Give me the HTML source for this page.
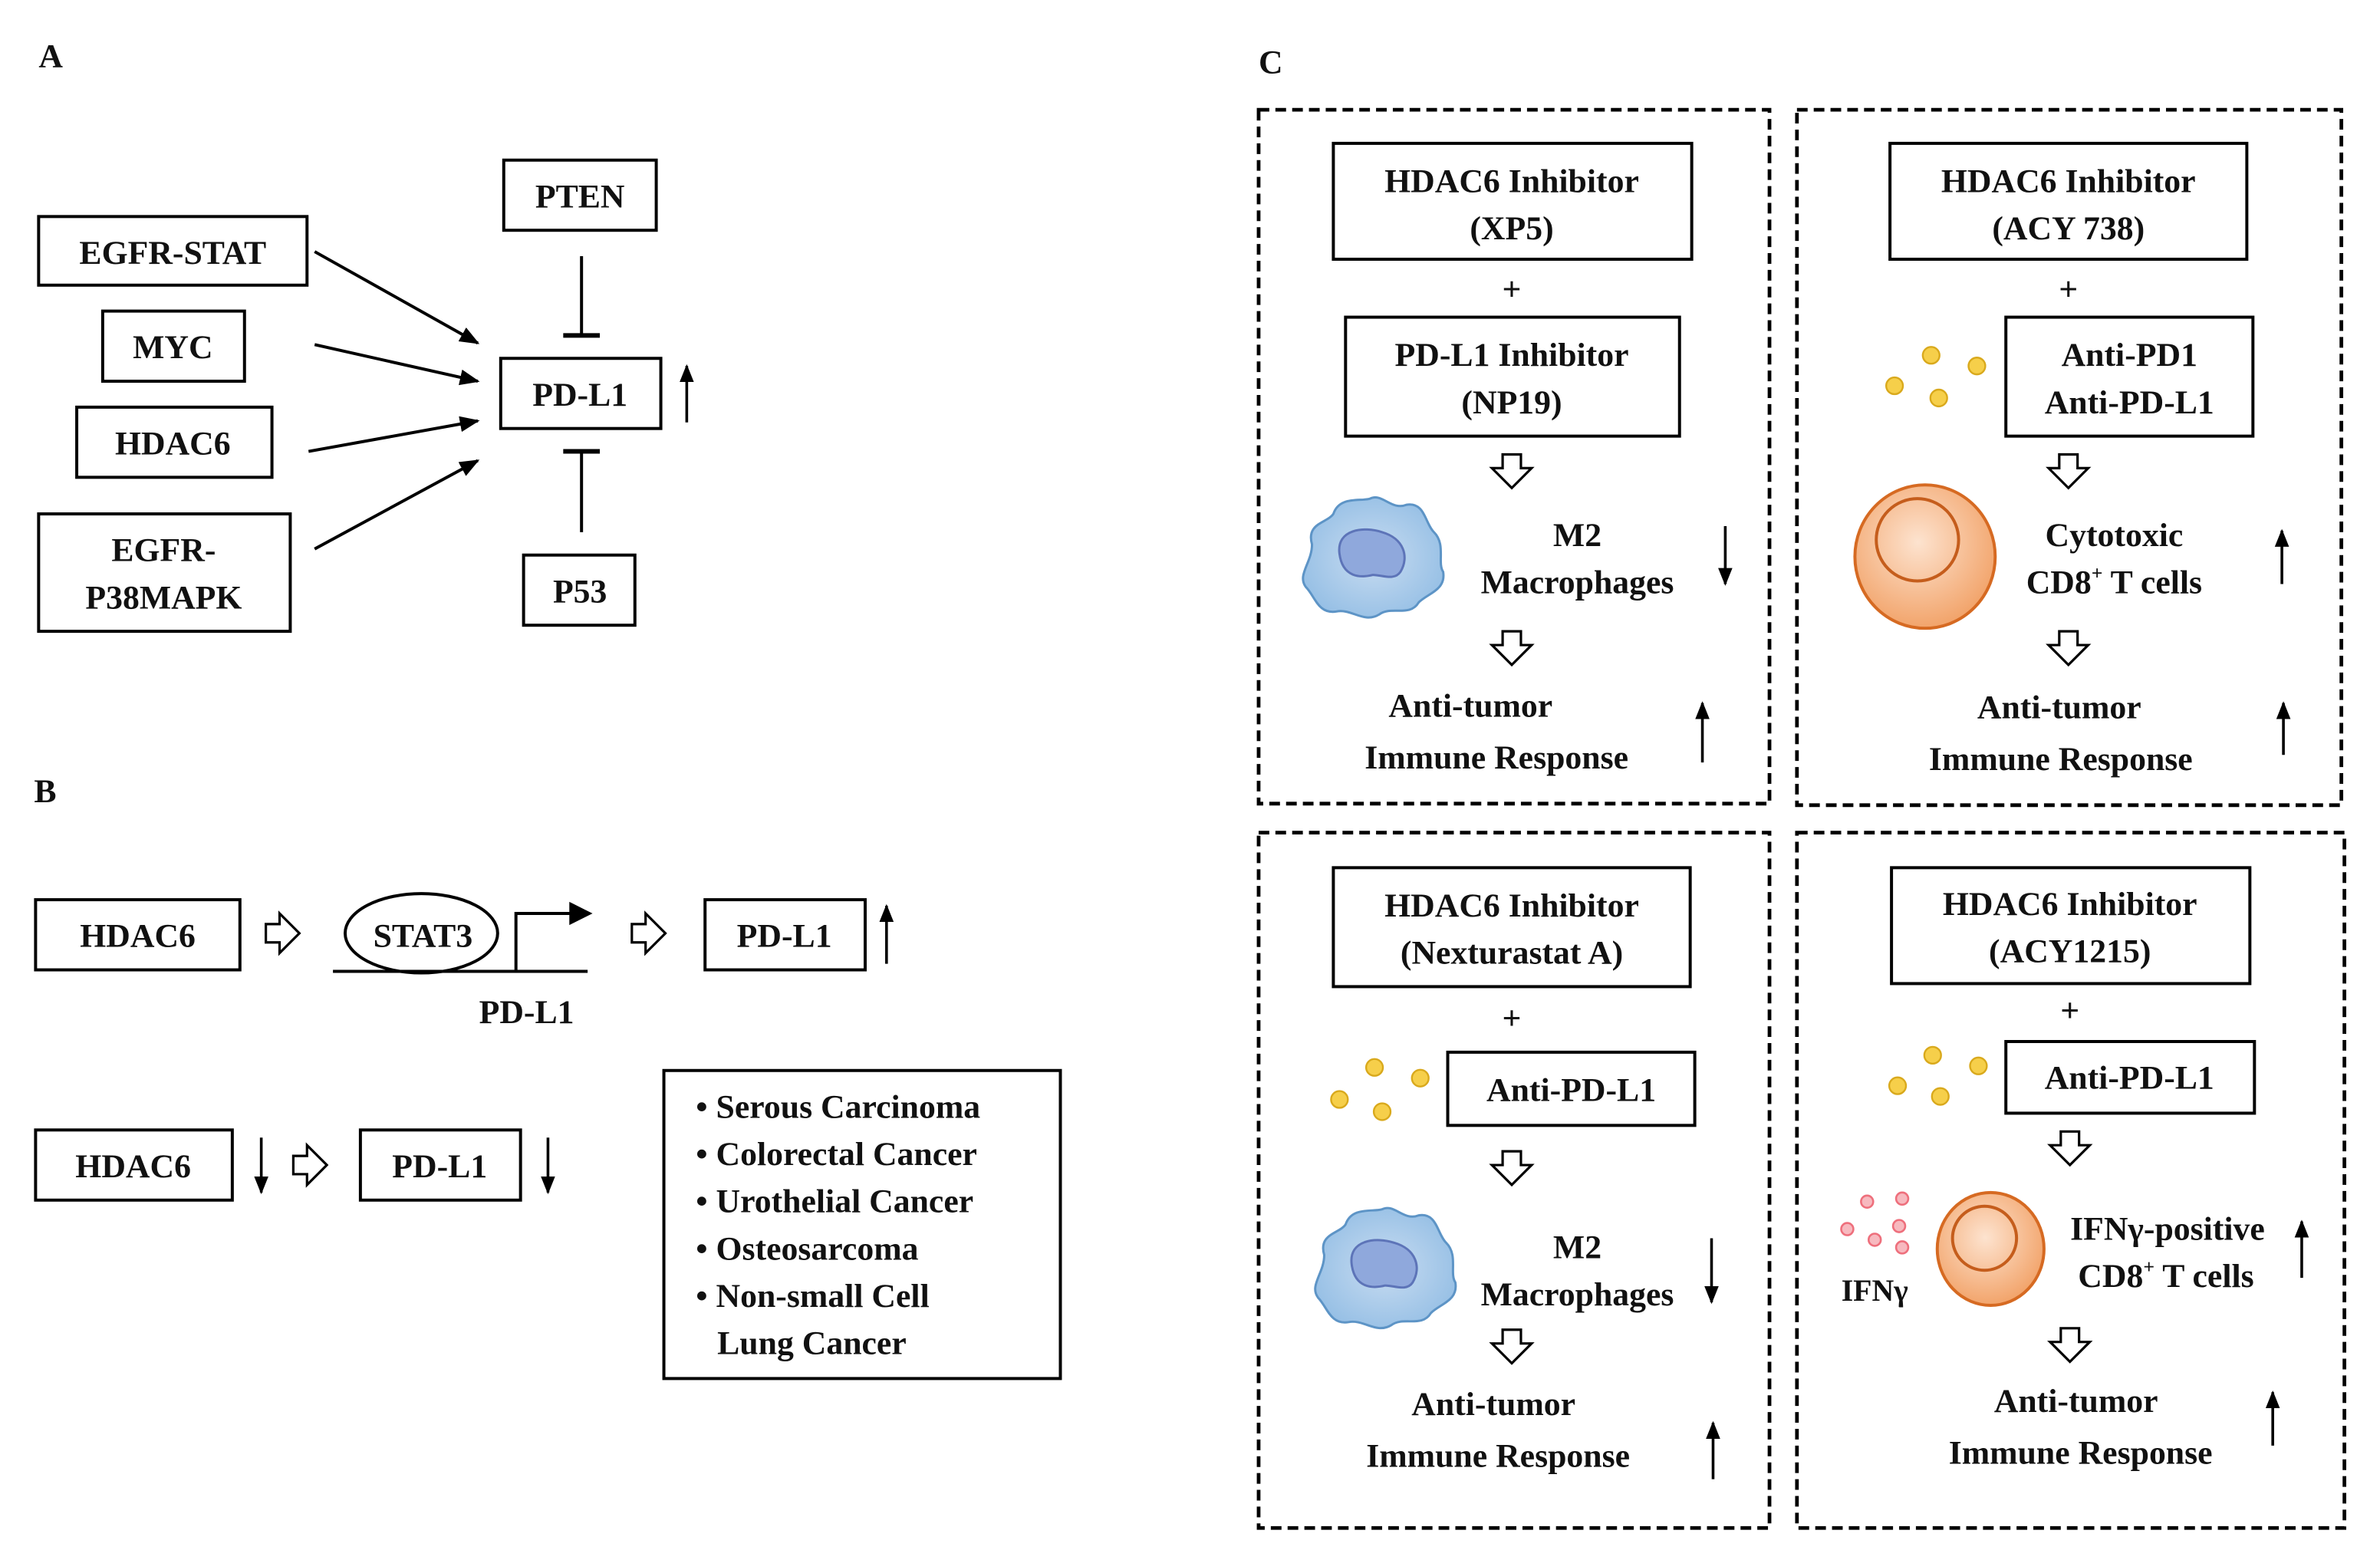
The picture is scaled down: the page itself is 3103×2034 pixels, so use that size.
<!DOCTYPE html>
<html><head><meta charset="utf-8"><style>
html,body{margin:0;padding:0;background:#fff;}
svg{display:block;}
text{font-family:"Liberation Serif","DejaVu Serif",serif;font-weight:bold;fill:#111;}
</style></head><body>
<svg width="3103" height="2034" viewBox="0 0 1560 1023" xmlns="http://www.w3.org/2000/svg">
<defs>
<marker id="ahs" viewBox="0 0 10 10" refX="9" refY="5" markerWidth="6.5" markerHeight="6.5" orient="auto" markerUnits="strokeWidth"><path d="M0,1 L10,5 L0,9 z" fill="#000"/></marker>
<g id="od"><path d="M-6,-11 h12 v9 h7 l-13,13 l-13,-13 h7 z" fill="#fff" stroke="#000" stroke-width="1.6"/></g>
<g id="or"><path d="M-11,-6 v12 h9 v7 l13,-13 l-13,-13 v7 z" fill="#fff" stroke="#000" stroke-width="1.6"/></g>
<radialGradient id="og" cx="0.45" cy="0.4" r="0.6"><stop offset="0" stop-color="#fde3cf"/><stop offset="1" stop-color="#f2a46b"/></radialGradient>
<radialGradient id="bg" cx="0.5" cy="0.5" r="0.6"><stop offset="0" stop-color="#c8dcf1"/><stop offset="1" stop-color="#92bde4"/></radialGradient>
<g id="mac">
<path d="M-40,-8 C-44,-22 -30,-22 -26,-28 C-22,-40 -8,-36 -2,-38 C6,-42 12,-30 22,-34 C34,-36 34,-22 40,-16 C48,-8 42,4 46,10 C48,22 36,24 30,30 C24,40 12,32 4,38 C-6,44 -14,34 -24,36 C-36,38 -38,26 -44,20 C-50,12 -40,4 -40,-8 z" fill="url(#bg)" stroke="#5d94c6" stroke-width="1.5"/>
<path d="M-22,-2 C-24,-18 -6,-20 6,-16 C20,-12 24,0 18,10 C14,16 6,12 0,12 C-8,14 -20,14 -22,-2 z" fill="#8fa8dc" stroke="#5d74b8" stroke-width="1.5"/>
</g>
<g id="ycl"><circle r="5.5" fill="#f6cf4a" stroke="#d9a91c" stroke-width="1.2"/></g>
<g id="pdot"><circle r="4" fill="#f7b9bf" stroke="#ee6f7c" stroke-width="1.3"/></g>
</defs>

<g font-size="22">
<text x="25" y="44">A</text>
<text x="22" y="526">B</text>
<text x="825" y="48">C</text>
</g>

<!-- Panel A -->
<g fill="none" stroke="#000" stroke-width="2">
<rect x="25" y="142" width="176" height="45"/>
<rect x="67" y="204" width="93" height="46"/>
<rect x="50" y="267" width="128" height="46"/>
<rect x="25" y="337" width="165" height="77"/>
<rect x="330" y="105" width="100" height="46"/>
<rect x="328" y="235" width="105" height="46"/>
<rect x="343" y="364" width="73" height="46"/>
<line x1="206" y1="165" x2="313" y2="225" marker-end="url(#ahs)"/>
<line x1="206" y1="226" x2="313" y2="250" marker-end="url(#ahs)"/>
<line x1="202" y1="296" x2="313" y2="276" marker-end="url(#ahs)"/>
<line x1="206" y1="360" x2="313" y2="302" marker-end="url(#ahs)"/>
<line x1="381" y1="168" x2="381" y2="220"/><line x1="369" y1="220" x2="393" y2="220" stroke-width="3"/>
<line x1="381" y1="349" x2="381" y2="296"/><line x1="369" y1="296" x2="393" y2="296" stroke-width="3"/>
<line x1="450" y1="277" x2="450" y2="240" marker-end="url(#ahs)" stroke-width="1.8"/>
</g>
<g font-size="22" text-anchor="middle">
<text x="113" y="173">EGFR-STAT</text>
<text x="113" y="235">MYC</text>
<text x="113" y="298">HDAC6</text>
<text x="107" y="368">EGFR-</text>
<text x="107" y="399">P38MAPK</text>
<text x="380" y="136">PTEN</text>
<text x="380" y="266">PD-L1</text>
<text x="380" y="395">P53</text>
</g>

<!-- Panel B -->
<g fill="none" stroke="#000" stroke-width="2">
<rect x="23" y="590" width="134" height="46"/>
<rect x="462" y="590" width="105" height="46"/>
<ellipse cx="276" cy="612" rx="50" ry="26"/>
<line x1="218" y1="637" x2="385" y2="637"/>
<polyline points="338,637 338,599 376,599"/>
<path d="M374,593 L386,599 L374,605 z" fill="#000"/>
<line x1="581" y1="632" x2="581" y2="594" marker-end="url(#ahs)" stroke-width="1.8"/>
<rect x="23" y="741" width="129" height="46"/>
<rect x="236" y="741" width="105" height="46"/>
<line x1="171" y1="746" x2="171" y2="782" marker-end="url(#ahs)" stroke-width="1.8"/>
<line x1="359" y1="746" x2="359" y2="782" marker-end="url(#ahs)" stroke-width="1.8"/>
<rect x="435" y="702" width="260" height="202"/>
</g>
<use href="#or" x="185" y="612"/>
<use href="#or" x="425" y="612"/>
<use href="#or" x="203" y="764"/>
<g font-size="22" text-anchor="middle">
<text x="90" y="621">HDAC6</text>
<text x="277" y="621">STAT3</text>
<text x="345" y="671">PD-L1</text>
<text x="514" y="621">PD-L1</text>
<text x="87" y="772">HDAC6</text>
<text x="288" y="772">PD-L1</text>
</g>
<g font-size="22">
<text x="456" y="733">• Serous Carcinoma</text>
<text x="456" y="764">• Colorectal Cancer</text>
<text x="456" y="795">• Urothelial Cancer</text>
<text x="456" y="826">• Osteosarcoma</text>
<text x="456" y="857">• Non-small Cell</text>
<text x="470" y="888">Lung Cancer</text>
</g>

<!-- Panel C dashed boxes -->
<g fill="none" stroke="#000" stroke-width="2.4" stroke-dasharray="7,4">
<rect x="825" y="72" width="335" height="455"/>
<rect x="1178" y="72" width="357" height="456"/>
<rect x="825" y="546" width="335" height="456"/>
<rect x="1178" y="546" width="359" height="456"/>
</g>
<g fill="none" stroke="#000" stroke-width="2">
<rect x="874" y="94" width="235" height="76"/>
<rect x="882" y="208" width="219" height="78"/>
<rect x="1239" y="94" width="234" height="76"/>
<rect x="1315" y="208" width="162" height="78"/>
<rect x="874" y="569" width="234" height="78"/>
<rect x="949" y="690" width="162" height="48"/>
<rect x="1240" y="569" width="235" height="76"/>
<rect x="1315" y="683" width="163" height="47"/>
</g>
<g stroke="#000" stroke-width="1.8" fill="none">
<line x1="1131" y1="345" x2="1131" y2="383" marker-end="url(#ahs)"/>
<line x1="1116" y1="500" x2="1116" y2="461" marker-end="url(#ahs)"/>
<line x1="1496" y1="383" x2="1496" y2="348" marker-end="url(#ahs)"/>
<line x1="1497" y1="495" x2="1497" y2="461" marker-end="url(#ahs)"/>
<line x1="1122" y1="812" x2="1122" y2="854" marker-end="url(#ahs)"/>
<line x1="1123" y1="970" x2="1123" y2="933" marker-end="url(#ahs)"/>
<line x1="1509" y1="838" x2="1509" y2="801" marker-end="url(#ahs)"/>
<line x1="1490" y1="948" x2="1490" y2="913" marker-end="url(#ahs)"/>
</g>
<use href="#od" x="991" y="309"/><use href="#od" x="991" y="425"/>
<use href="#od" x="1356" y="309"/><use href="#od" x="1356" y="425"/>
<use href="#od" x="991" y="766"/><use href="#od" x="991" y="883"/>
<use href="#od" x="1357" y="753"/><use href="#od" x="1357" y="882"/>

<use href="#mac" x="900" y="365"/>
<use href="#mac" x="908" y="831"/>
<ellipse cx="1262" cy="365" rx="46" ry="47" fill="url(#og)" stroke="#d66a22" stroke-width="2"/>
<circle cx="1257" cy="354" r="27" fill="none" stroke="#c55d1c" stroke-width="2"/>
<ellipse cx="1305" cy="819" rx="35" ry="37" fill="url(#og)" stroke="#d66a22" stroke-width="2"/>
<circle cx="1301" cy="812" r="21" fill="none" stroke="#c55d1c" stroke-width="2"/>
<use href="#ycl" x="1266" y="233"/><use href="#ycl" x="1296" y="240"/><use href="#ycl" x="1242" y="253"/><use href="#ycl" x="1271" y="261"/>
<use href="#ycl" x="901" y="700"/><use href="#ycl" x="931" y="707"/><use href="#ycl" x="878" y="721"/><use href="#ycl" x="906" y="729"/>
<use href="#ycl" x="1267" y="692"/><use href="#ycl" x="1297" y="699"/><use href="#ycl" x="1244" y="712"/><use href="#ycl" x="1272" y="719"/>
<use href="#pdot" x="1224" y="788"/><use href="#pdot" x="1247" y="786"/><use href="#pdot" x="1211" y="806"/><use href="#pdot" x="1245" y="804"/><use href="#pdot" x="1229" y="813"/><use href="#pdot" x="1247" y="818"/>

<g font-size="22" text-anchor="middle">
<text x="991" y="126">HDAC6 Inhibitor</text>
<text x="991" y="157">(XP5)</text>
<text x="991" y="197" font-weight="normal">+</text>
<text x="991" y="240">PD-L1 Inhibitor</text>
<text x="991" y="271">(NP19)</text>
<text x="1034" y="358">M2</text>
<text x="1034" y="389">Macrophages</text>
<text x="964" y="470">Anti-tumor</text>
<text x="981" y="504">Immune Response</text>

<text x="1356" y="126">HDAC6 Inhibitor</text>
<text x="1356" y="157">(ACY 738)</text>
<text x="1356" y="197" font-weight="normal">+</text>
<text x="1396" y="240">Anti-PD1</text>
<text x="1396" y="271">Anti-PD-L1</text>
<text x="1386" y="358">Cytotoxic</text>
<text x="1386" y="389">CD8<tspan font-size="13" dy="-9">+</tspan><tspan dy="9"> T cells</tspan></text>
<text x="1350" y="471">Anti-tumor</text>
<text x="1351" y="505">Immune Response</text>

<text x="991" y="601">HDAC6 Inhibitor</text>
<text x="991" y="632">(Nexturastat A)</text>
<text x="991" y="675" font-weight="normal">+</text>
<text x="1030" y="722">Anti-PD-L1</text>
<text x="1034" y="825">M2</text>
<text x="1034" y="856">Macrophages</text>
<text x="979" y="928">Anti-tumor</text>
<text x="982" y="962">Immune Response</text>

<text x="1357" y="600">HDAC6 Inhibitor</text>
<text x="1357" y="631">(ACY1215)</text>
<text x="1357" y="670" font-weight="normal">+</text>
<text x="1396" y="714">Anti-PD-L1</text>
<text x="1229" y="853" font-size="20">IFNγ</text>
<text x="1421" y="813">IFNγ-positive</text>
<text x="1420" y="844">CD8<tspan font-size="13" dy="-9">+</tspan><tspan dy="9"> T cells</tspan></text>
<text x="1361" y="926">Anti-tumor</text>
<text x="1364" y="960">Immune Response</text>
</g>
</svg>
</body></html>
